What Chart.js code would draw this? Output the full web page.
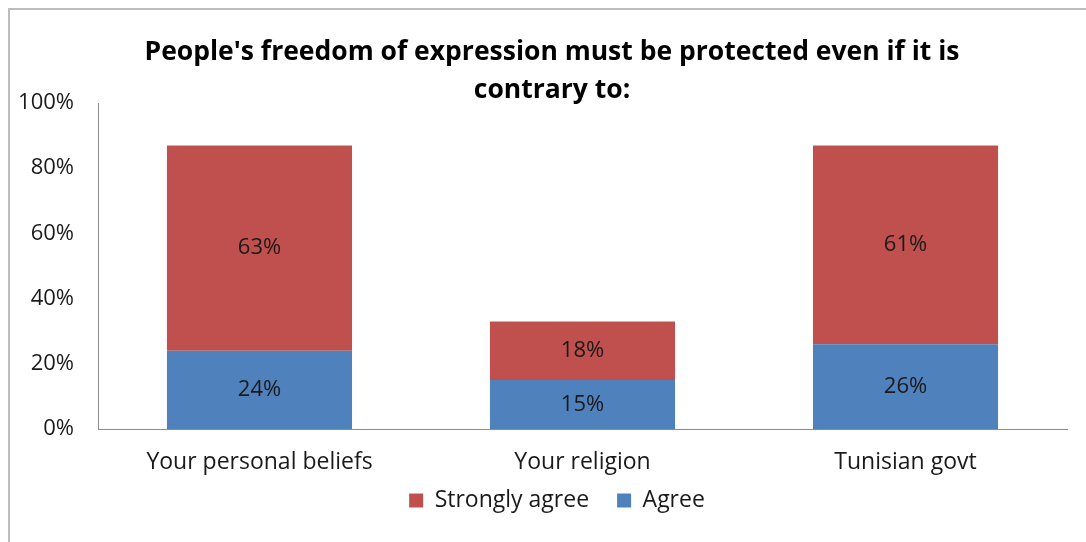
<!DOCTYPE html>
<html><head><meta charset="utf-8">
<script src="https://cdn.jsdelivr.net/npm/chart.js@4/dist/chart.umd.min.js"></script>
<style>
html,body{margin:0;padding:0;background:#fff;overflow:hidden;width:1086px;height:542px;}
#wrap{position:absolute;left:8px;top:8px;width:1086px;height:534px;border-left:2px solid #bdbdbd;border-top:2px solid #bdbdbd;box-sizing:border-box;}
#c{position:absolute;left:-2px;top:-2px;}
</style></head><body>
<div id="wrap"><canvas id="c" width="1086" height="534"></canvas></div>
<script>
const categories = ["Your personal beliefs", "Your religion", "Tunisian govt"];
const agree = [24, 15, 26];
const stronglyAgree = [63, 18, 61];
const yTicks = [0, 20, 40, 60, 80, 100];
const titleLines = ["People's freedom of expression must be protected even if it is", "contrary to:"];
const FONT = "'Open Sans', sans-serif";

const labelPlugin = {
  id: 'segLabels',
  afterDatasetsDraw(chart) {
    const ctx = chart.ctx;
    ctx.save();
    ctx.font = "22px " + FONT;
    ctx.fillStyle = "#1a1a1a";
    ctx.textAlign = "center";
    ctx.textBaseline = "middle";
    chart.data.datasets.forEach((ds, i) => {
      const meta = chart.getDatasetMeta(i);
      meta.data.forEach((bar, j) => {
        const mid = (bar.y + bar.base) / 2;
        ctx.fillText(ds.data[j] + "%", bar.x, mid);
      });
    });
    ctx.restore();
  }
};

const titlePlugin = {
  id: 'customTitle',
  afterLayout(chart) {
    if (chart.legend) { chart.legend.left += 39; chart.legend.top -= 16; }
  },
  afterDraw(chart) {
    const ctx = chart.ctx;
    ctx.save();
    ctx.font = "bold 26.5px " + FONT;
    ctx.fillStyle = "#000";
    ctx.textAlign = "center";
    ctx.textBaseline = "middle";
    titleLines.forEach((t, i) => ctx.fillText(t, 544, 44 + i * 38));
    ctx.restore();
  }
};

new Chart(document.getElementById('c'), {
  type: 'bar',
  data: {
    labels: categories,
    datasets: [
      { label: 'Agree', data: agree, backgroundColor: '#4F81BD', categoryPercentage: 1, barPercentage: 0.573 },
      { label: 'Strongly agree', data: stronglyAgree, backgroundColor: '#C0504D', categoryPercentage: 1, barPercentage: 0.573 }
    ]
  },
  options: {
    responsive: false,
    animation: false,
    layout: { padding: { left: 0, right: 27, top: 95, bottom: 4 } },
    plugins: {
      title: { display: false },
      legend: {
        position: 'bottom',
        reverse: true,
        labels: { font: { family: FONT, size: 23 }, color: '#1a1a1a', boxWidth: 14, boxHeight: 14, padding: 28 }
      },
      tooltip: { enabled: false }
    },
    scales: {
      x: {
        stacked: true,
        afterFit(scale) { scale.height = 48; },
        grid: { display: false, drawTicks: false },
        border: { color: '#8c8c8c', width: 1 },
        ticks: { font: { family: FONT, size: 23 }, color: '#1a1a1a', padding: 20 }
      },
      y: {
        stacked: true,
        min: 0, max: 100,
        afterBuildTicks(scale) { scale.ticks = yTicks.map(v => ({ value: v })); },
        afterFit(scale) { scale.width = 90; },
        grid: { display: false, drawTicks: false },
        border: { color: '#8c8c8c', width: 1 },
        ticks: { font: { family: FONT, size: 22 }, color: '#1a1a1a', padding: 24, callback: v => v + '%' }
      }
    }
  },
  plugins: [labelPlugin, titlePlugin]
});
</script>
</body></html>
